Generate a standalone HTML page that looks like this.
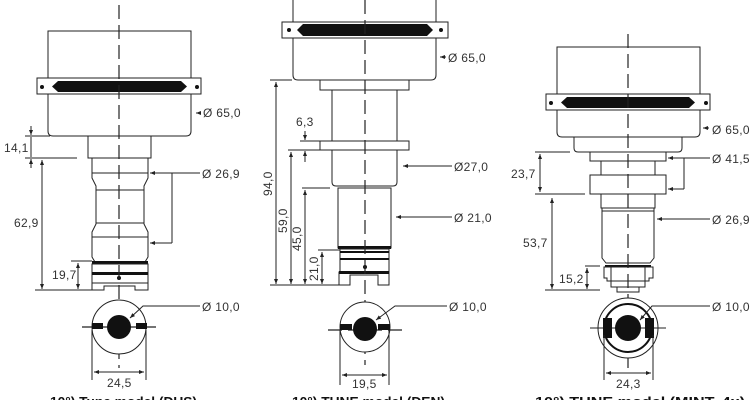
<!DOCTYPE html>
<html><head><meta charset="utf-8"><style>
html,body{margin:0;padding:0;background:#fff;width:750px;height:400px;overflow:hidden}
svg{display:block}
text{font-family:"Liberation Sans",sans-serif;font-size:12px;letter-spacing:0.3px;fill:#333}
.l{fill:none;stroke:#222;stroke-width:1}
.w{fill:#fff;stroke:#222;stroke-width:1}
.d{stroke:#222;stroke-width:1.2;stroke-dasharray:14,6;fill:none}
.k{fill:#111}
.c{font-size:13px;font-weight:bold;fill:#111;letter-spacing:0}
</style></head><body>
<svg width="750" height="400" viewBox="0 0 750 400" xmlns="http://www.w3.org/2000/svg">
<defs>
<marker id="a" viewBox="0 0 10 10" refX="10" refY="5" markerWidth="5" markerHeight="5" orient="auto-start-reverse"><path d="M0,1 L10,5 L0,9 z" fill="#222"/></marker>
</defs>

<!-- ============ LEFT ============ -->
<path class="w" d="M48,31 H191 V131 Q191,136 186,136 H53 Q48,136 48,131 Z"/>
<rect class="w" x="37" y="78" width="164" height="16"/>
<path class="k" d="M58,81 H181 L187,86.5 L181,92 H58 L52,86.5 Z"/>
<circle class="k" cx="42" cy="87" r="2"/><circle class="k" cx="197" cy="87" r="2"/>
<rect class="w" x="88" y="136" width="63" height="22"/>
<path class="w" d="M92,158 H148 V178 L144,186 V224 L148,232 V257 L145,262 H95 L92,257 V232 L96,224 V186 L92,178 Z"/>
<line class="l" x1="92" y1="173" x2="148" y2="173"/>
<line class="l" x1="96" y1="190" x2="144" y2="190"/>
<line class="l" x1="96" y1="223" x2="144" y2="223"/>
<line class="l" x1="92" y1="237" x2="148" y2="237"/>
<rect class="k" x="92" y="261" width="56" height="3"/>
<rect class="w" x="92" y="264" width="56" height="19"/>
<rect class="k" x="92" y="272" width="56" height="3"/>
<circle class="k" cx="119" cy="278" r="2"/>
<path class="w" d="M92,283 H148 V290 H135 V286 H104 V290 H92 Z"/>
<line class="d" x1="119" y1="5" x2="119" y2="368"/>
<!-- dims -->
<line class="l" x1="25" y1="136" x2="50" y2="136"/>
<line class="l" x1="25" y1="158" x2="77" y2="158"/>
<line class="l" x1="35" y1="290" x2="92" y2="290"/>
<line class="l" x1="31" y1="126" x2="31" y2="135" marker-end="url(#a)"/>
<line class="l" x1="31" y1="137" x2="31" y2="157"/>
<line class="l" x1="31" y1="168" x2="31" y2="159" marker-end="url(#a)"/>
<text x="4" y="152">14,1</text>
<line class="l" x1="42" y1="160" x2="42" y2="289" marker-start="url(#a)" marker-end="url(#a)"/>
<text x="14" y="227">62,9</text>
<line class="l" x1="78" y1="263" x2="78" y2="289" marker-start="url(#a)" marker-end="url(#a)"/>
<text x="52" y="279">19,7</text>
<line class="l" x1="71" y1="261" x2="92" y2="261"/>
<line class="l" x1="201" y1="113" x2="196" y2="113" marker-end="url(#a)"/>
<text x="203" y="117">Ø 65,0</text>
<path class="l" d="M200,173 H172 V243"/>
<line class="l" x1="172" y1="173" x2="150" y2="173" marker-end="url(#a)"/>
<line class="l" x1="172" y1="243" x2="150" y2="243" marker-end="url(#a)"/>
<text x="202" y="178">Ø 26,9</text>
<!-- section -->
<circle class="w" cx="119" cy="327" r="27"/>
<line class="d" x1="82" y1="327" x2="157" y2="327"/>
<circle class="k" cx="119" cy="327" r="12"/>
<rect class="k" x="92" y="323" width="11" height="6"/>
<rect class="k" x="136" y="323" width="11" height="6"/>
<path class="l" d="M200,306 H143 L130,318" marker-end="url(#a)"/>
<text x="202" y="311">Ø 10,0</text>
<line class="l" x1="92" y1="330" x2="92" y2="380"/>
<line class="l" x1="146" y1="330" x2="146" y2="380"/>
<line class="l" x1="94" y1="372" x2="144" y2="372" marker-start="url(#a)" marker-end="url(#a)"/>
<text x="107" y="387">24,5</text>

<!-- ============ MIDDLE ============ -->
<path class="w" d="M293,-2 H436 V75 Q436,80 431,80 H298 Q293,80 293,75 Z"/>
<rect class="w" x="282" y="22" width="166" height="16"/>
<path class="k" d="M303,24 H427 L433,30 L427,36 H303 L297,30 Z"/>
<circle class="k" cx="289" cy="30" r="2"/><circle class="k" cx="441" cy="30" r="2"/>
<rect class="w" x="320" y="80" width="89" height="10"/>
<path class="w" d="M332,90 H397 V182 Q397,186 393,186 H336 Q332,186 332,182 Z"/>
<rect class="w" x="320" y="141" width="89" height="9"/>
<path class="w" d="M338,188 H391 V248 H338 Z"/>
<rect class="k" x="338" y="246" width="53" height="3"/>
<rect class="w" x="340" y="249" width="49" height="24"/>
<rect class="k" x="340" y="251" width="49" height="2"/>
<rect class="k" x="340" y="258" width="49" height="2"/>
<circle class="k" cx="365" cy="267" r="2"/>
<path class="w" d="M339,272 H389 V285 H378 V275 H350 V285 H339 Z"/>
<rect class="k" x="339" y="271" width="50" height="3"/>
<line class="d" x1="365" y1="0" x2="365" y2="365"/>
<!-- dims -->
<line class="l" x1="270" y1="80" x2="292" y2="80"/>
<line class="l" x1="270" y1="285" x2="340" y2="285"/>
<line class="l" x1="288" y1="150" x2="320" y2="150"/>
<line class="l" x1="302" y1="188" x2="330" y2="188"/>
<line class="l" x1="318" y1="250" x2="340" y2="250"/>
<line class="l" x1="276" y1="82" x2="276" y2="284" marker-start="url(#a)" marker-end="url(#a)"/>
<text transform="translate(272,196) rotate(-90)">94,0</text>
<line class="l" x1="291" y1="152" x2="291" y2="284" marker-start="url(#a)" marker-end="url(#a)"/>
<text transform="translate(287,233) rotate(-90)">59,0</text>
<line class="l" x1="305" y1="190" x2="305" y2="284" marker-start="url(#a)" marker-end="url(#a)"/>
<text transform="translate(301,251) rotate(-90)">45,0</text>
<line class="l" x1="322" y1="252" x2="322" y2="284" marker-start="url(#a)" marker-end="url(#a)"/>
<text transform="translate(318,281) rotate(-90)">21,0</text>
<line class="l" x1="305" y1="131" x2="305" y2="140" marker-end="url(#a)"/>
<line class="l" x1="300" y1="141" x2="320" y2="141"/>
<line class="l" x1="305" y1="162" x2="305" y2="151" marker-end="url(#a)"/>
<text x="296" y="126">6,3</text>
<line class="l" x1="446" y1="57" x2="440" y2="57" marker-end="url(#a)"/>
<text x="448" y="62">Ø 65,0</text>
<line class="l" x1="452" y1="166" x2="403" y2="166" marker-end="url(#a)"/>
<text x="454" y="171">Ø27,0</text>
<line class="l" x1="452" y1="217" x2="396" y2="217" marker-end="url(#a)"/>
<text x="454" y="222">Ø 21,0</text>
<!-- section -->
<circle class="w" cx="365" cy="327" r="25"/>
<line class="d" x1="328" y1="330" x2="402" y2="330"/>
<circle class="k" cx="365" cy="329" r="12"/>
<rect class="k" x="340" y="324" width="12" height="6"/>
<rect class="k" x="378" y="324" width="12" height="6"/>
<path class="l" d="M447,306 H395 L376,320" marker-end="url(#a)"/>
<text x="449" y="311">Ø 10,0</text>
<line class="l" x1="340" y1="330" x2="340" y2="385"/>
<line class="l" x1="389" y1="330" x2="389" y2="385"/>
<line class="l" x1="342" y1="375" x2="387" y2="375" marker-start="url(#a)" marker-end="url(#a)"/>
<text x="352" y="388">19,5</text>

<!-- ============ RIGHT ============ -->
<path class="w" d="M557,47 H700 V132 Q700,137 695,137 H562 Q557,137 557,132 Z"/>
<rect class="w" x="546" y="94" width="164" height="16"/>
<path class="k" d="M567,97 H689 L695,102.5 L689,108 H567 L561,102.5 Z"/>
<circle class="k" cx="551" cy="103" r="2"/><circle class="k" cx="706" cy="103" r="2"/>
<path class="w" d="M574,137 H682 V148 Q682,152 678,152 H578 Q574,152 574,148 Z"/>
<rect class="w" x="590" y="152" width="76" height="9"/>
<rect class="w" x="601" y="161" width="54" height="14"/>
<rect class="w" x="590" y="175" width="76" height="19"/>
<rect class="w" x="601" y="194" width="54" height="14"/>
<path class="w" d="M602,208 H654 V258 L650,263 H606 L602,258 Z"/>
<line class="l" x1="602" y1="211" x2="654" y2="211"/>
<rect class="k" x="605" y="265" width="46" height="2"/>
<path class="w" d="M604,267 H653 V278 H649 V281 H607 V278 H604 Z"/>
<line class="l" x1="611" y1="267" x2="611" y2="281"/><line class="l" x1="645" y1="267" x2="645" y2="281"/>
<rect class="w" x="611" y="281" width="34" height="6"/>
<rect class="w" x="617" y="287" width="22" height="5"/>
<line class="d" x1="628" y1="34" x2="628" y2="372"/>
<!-- dims -->
<line class="l" x1="535" y1="152" x2="570" y2="152"/>
<line class="l" x1="535" y1="194" x2="585" y2="194"/>
<line class="l" x1="545" y1="290" x2="600" y2="290"/>
<line class="l" x1="585" y1="266" x2="600" y2="266"/>
<line class="l" x1="540" y1="154" x2="540" y2="192" marker-start="url(#a)" marker-end="url(#a)"/>
<text x="511" y="178">23,7</text>
<line class="l" x1="552" y1="198" x2="552" y2="289" marker-start="url(#a)" marker-end="url(#a)"/>
<text x="523" y="247">53,7</text>
<line class="l" x1="587" y1="268" x2="587" y2="289" marker-start="url(#a)" marker-end="url(#a)"/>
<text x="559" y="283">15,2</text>
<line class="l" x1="709" y1="128" x2="703" y2="128" marker-end="url(#a)"/>
<text x="712" y="134">Ø 65,0</text>
<path class="l" d="M710,158 H684 V189"/>
<line class="l" x1="684" y1="158" x2="668" y2="158" marker-end="url(#a)"/>
<line class="l" x1="684" y1="189" x2="668" y2="189" marker-end="url(#a)"/>
<text x="712" y="163">Ø 41,5</text>
<line class="l" x1="710" y1="219" x2="657" y2="219" marker-end="url(#a)"/>
<text x="712" y="224">Ø 26,9</text>
<!-- section -->
<circle class="w" cx="628" cy="328" r="30"/>
<circle cx="628" cy="328" r="24" fill="none" stroke="#111" stroke-width="2"/>
<line class="l" x1="590" y1="328" x2="666" y2="328"/>
<circle class="k" cx="628" cy="328" r="13"/>
<rect class="k" x="603" y="318" width="9" height="20"/>
<rect class="k" x="645" y="318" width="9" height="20"/>
<path class="l" d="M710,306 H652 L640,320" marker-end="url(#a)"/>
<text x="712" y="311">Ø 10,0</text>
<line class="l" x1="604" y1="335" x2="604" y2="380"/>
<line class="l" x1="653" y1="335" x2="653" y2="380"/>
<line class="l" x1="606" y1="373" x2="651" y2="373" marker-start="url(#a)" marker-end="url(#a)"/>
<text x="616" y="388">24,3</text>

<!-- captions (clipped) -->
<text class="c" x="50" y="406" textLength="147" lengthAdjust="spacingAndGlyphs">10°) Tune model (DUS)</text>
<text class="c" x="292" y="406" textLength="153" lengthAdjust="spacingAndGlyphs">10°) TUNE model (DEN)</text>
<text class="c" x="535" y="406" textLength="210" lengthAdjust="spacingAndGlyphs">10°) TUNE model (MINT. 4x)</text>
</svg>
</body></html>
